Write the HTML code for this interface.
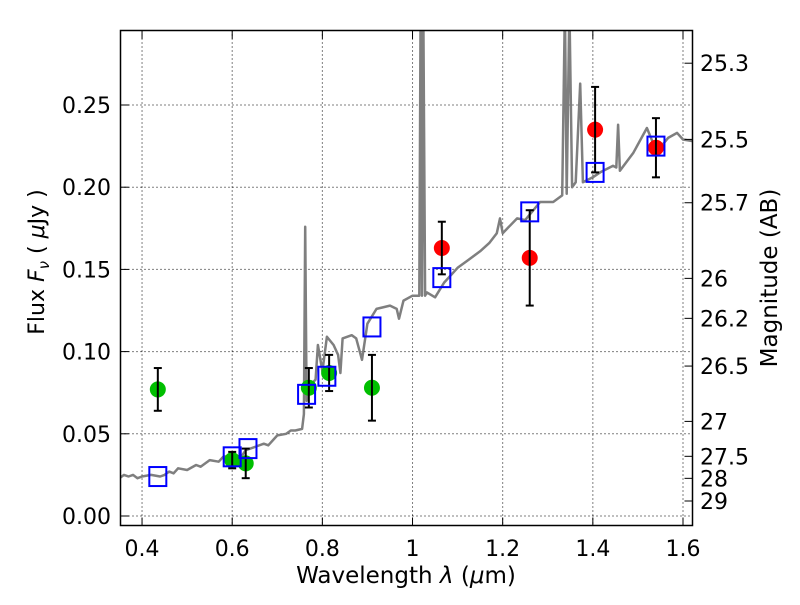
<!DOCTYPE html>
<html><head><meta charset="utf-8"><style>
body{margin:0;background:#fff}
svg text{font-family:"DejaVu Sans","Liberation Sans",sans-serif;fill:#000}
</style></head><body>
<svg id="chart" width="800" height="600" xmlns="http://www.w3.org/2000/svg">
<rect width="800" height="600" fill="#fff"/>
<g id="grid"></g>
<g id="spec"></g>
<g id="marks"></g>
<rect x="120.5" y="30.5" width="572" height="495" fill="none" stroke="#000" stroke-width="1.5"/>
<g id="axes"></g>
<text x="406" y="583" font-size="23" text-anchor="middle">Wavelength  <tspan font-style="italic">λ</tspan> (<tspan font-style="italic">μ</tspan>m)</text>
<text transform="translate(44,262) rotate(-90)" font-size="22" text-anchor="middle">Flux  <tspan font-style="italic">F</tspan><tspan font-style="italic" font-size="15" dy="5">ν</tspan><tspan dy="-5">  ( </tspan><tspan font-style="italic">μ</tspan>Jy )</text>
<text transform="translate(777,278) rotate(-90)" font-size="23" text-anchor="middle">Magnitude (AB)</text>
</svg>
<script>
const specWl=[0.35,0.36,0.37,0.38,0.39,0.40,0.42,0.44,0.45,0.46,0.47,0.48,0.50,0.52,0.53,0.55,0.57,0.58,0.60,0.62,0.63,0.65,0.67,0.68,0.70,0.72,0.73,0.74,0.755,0.759,0.762,0.765,0.768,0.775,0.785,0.79,0.80,0.81,0.825,0.835,0.84,0.845,0.865,0.875,0.888,0.90,0.92,0.95,0.965,0.97,0.98,1.00,1.015,1.018,1.021,1.024,1.028,1.032,1.05,1.07,1.10,1.12,1.15,1.17,1.187,1.194,1.20,1.232,1.25,1.283,1.312,1.332,1.338,1.342,1.348,1.354,1.362,1.372,1.378,1.40,1.416,1.445,1.452,1.456,1.46,1.49,1.52,1.535,1.549,1.567,1.587,1.60,1.622];
const specFlux=[0.023,0.025,0.024,0.025,0.023,0.024,0.025,0.024,0.025,0.027,0.026,0.029,0.028,0.031,0.030,0.034,0.033,0.036,0.037,0.036,0.040,0.042,0.044,0.043,0.049,0.050,0.052,0.052,0.053,0.062,0.176,0.070,0.075,0.080,0.083,0.104,0.088,0.109,0.104,0.098,0.087,0.108,0.110,0.108,0.095,0.117,0.126,0.128,0.126,0.120,0.131,0.134,0.134,0.31,0.134,0.31,0.134,0.136,0.133,0.142,0.151,0.155,0.161,0.166,0.172,0.181,0.172,0.181,0.180,0.191,0.191,0.195,0.31,0.196,0.31,0.200,0.203,0.263,0.203,0.206,0.209,0.213,0.212,0.238,0.210,0.221,0.236,0.226,0.224,0.230,0.233,0.229,0.228];
const greenWl=[0.435,0.60,0.63,0.77,0.815,0.91];
const greenFlux=[0.077,0.034,0.032,0.078,0.087,0.078];
const greenErr=[0.013,0.005,0.009,0.012,0.011,0.020];
const redWl=[1.065,1.26,1.405,1.54];
const redFlux=[0.163,0.157,0.235,0.224];
const redErr=[0.016,0.029,0.026,0.018];
const modelWl=[0.435,0.60,0.635,0.765,0.81,0.91,1.065,1.26,1.405,1.54];
const modelFlux=[0.024,0.036,0.041,0.074,0.085,0.115,0.145,0.185,0.209,0.225];
const xTicks=[0.4,0.6,0.8,1.0,1.2,1.4,1.6];
const xTickLabels=["0.4","0.6","0.8","1","1.2","1.4","1.6"];
const yTicks=[0,0.05,0.10,0.15,0.20,0.25];
const yTickLabels=["0.00","0.05","0.10","0.15","0.20","0.25"];
const magTicks=[25.3,25.5,25.7,26,26.2,26.5,27,27.5,28,29];
const magLabels=["25.3","25.5","25.7","26","26.2","26.5","27","27.5","28","29"];

const L=120.5,R=692.5,T=30.5,B=525.5;
const X=v=>119.5+(v-0.35)*450.8;
const Y=v=>516-v*1644;
const NS="http://www.w3.org/2000/svg";
function mk(p,tag,at){const e=document.createElementNS(NS,tag);for(const k in at)e.setAttribute(k,at[k]);p.appendChild(e);return e;}
const grid=document.getElementById('grid'),axes=document.getElementById('axes'),spec=document.getElementById('spec'),marks=document.getElementById('marks');

xTicks.forEach((v,i)=>{const x=X(v);
 const g=mk(grid,'line',{x1:x,x2:x,y1:T,y2:B,stroke:'#000','stroke-dasharray':'1,3','stroke-width':1});
 
 const t1=mk(axes,'line',{x1:x,x2:x,y1:B,y2:B-8,stroke:'#000'});
 
 const t2=mk(axes,'line',{x1:x,x2:x,y1:T,y2:T+8,stroke:'#000'});
 
 const tx=mk(axes,'text',{x:x,y:556,'font-size':22,'text-anchor':'middle'});tx.textContent=xTickLabels[i];
 
});
yTicks.forEach((v,i)=>{const y=Y(v);
 const g=mk(grid,'line',{x1:L,x2:R,y1:y,y2:y,stroke:'#000','stroke-dasharray':'1,3','stroke-width':1});
 
 const t=mk(axes,'line',{x1:L,x2:L+8,y1:y,y2:y,stroke:'#000'});
 
 const tx=mk(axes,'text',{x:111,y:y+8,'font-size':22,'text-anchor':'end'});tx.textContent=yTickLabels[i];
 
});
magTicks.forEach((m,i)=>{const y=Y(Math.pow(10,(23.9-m)/2.5));
 const t=mk(axes,'line',{x1:R-8,x2:R,y1:y,y2:y,stroke:'#000'});
 
 const tx=mk(axes,'text',{x:700,y:y+8,'font-size':22});tx.textContent=magLabels[i];
 
});
mk(spec,'clipPath',{id:'cp'});
mk(document.getElementById('cp'),'rect',{x:L,y:T,width:R-L,height:B-T});
const pts=specWl.map((w,i)=>X(w).toFixed(1)+','+Y(specFlux[i]).toFixed(1)).join(' ');
const pl=mk(spec,'polyline',{points:pts,fill:'none',stroke:'#7f7f7f','stroke-width':2.5,'clip-path':'url(#cp)','stroke-linejoin':'round'});


function errbar(x,v,e){const g=mk(marks,'g',{stroke:'#000','stroke-width':2});
 
 mk(g,'line',{x1:x,x2:x,y1:Y(v-e),y2:Y(v+e)});
 mk(g,'line',{x1:x-4,x2:x+4,y1:Y(v-e),y2:Y(v-e)});
 mk(g,'line',{x1:x-4,x2:x+4,y1:Y(v+e),y2:Y(v+e)});}
greenWl.forEach((w,i)=>{const c=mk(marks,'circle',{cx:X(w),cy:Y(greenFlux[i]),r:8,fill:'#00bf00'});
 });
redWl.forEach((w,i)=>{const c=mk(marks,'circle',{cx:X(w),cy:Y(redFlux[i]),r:8,fill:'#ff0000'});
 });
greenWl.forEach((w,i)=>errbar(X(w),greenFlux[i],greenErr[i]));
redWl.forEach((w,i)=>errbar(X(w),redFlux[i],redErr[i]));
modelWl.forEach((w,i)=>{const s=mk(marks,'rect',{x:X(w)-8.5,y:Y(modelFlux[i])-9.5,width:17,height:19,fill:'none',stroke:'#0000ff','stroke-width':2});
 });
</script>
</body></html>
